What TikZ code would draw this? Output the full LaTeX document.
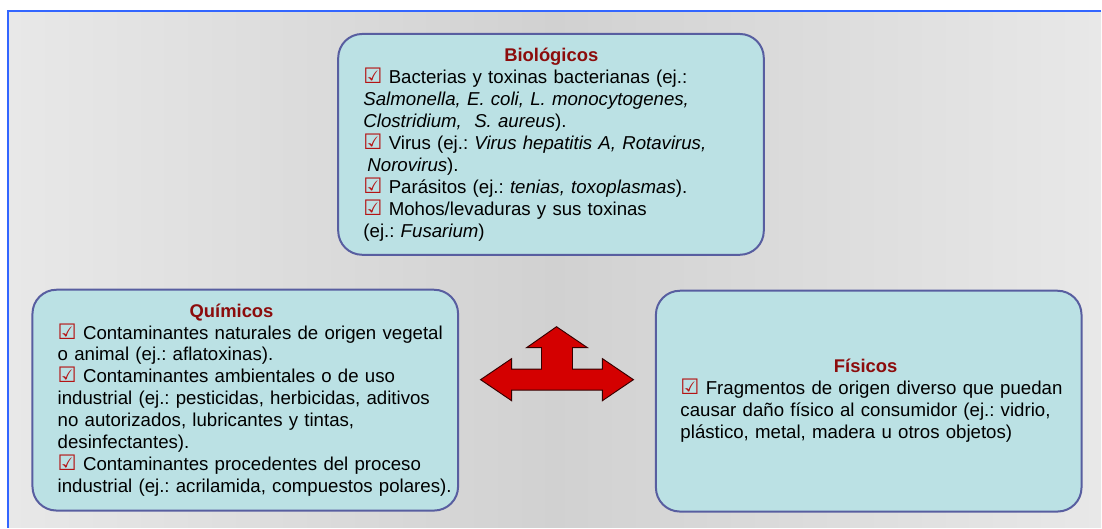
\documentclass[tikz,border=0pt]{standalone}
\usepackage{fontspec}
\setmainfont{Liberation Sans}
\newfontfamily\symfont{DejaVu Sans}
\usetikzlibrary{positioning}

\definecolor{boxfill}{RGB}{187,225,228}
\definecolor{boxline}{RGB}{88,94,160}
\definecolor{titlered}{RGB}{140,12,12}
\definecolor{chkred}{RGB}{180,20,20}
\definecolor{arrowred}{RGB}{212,0,0}
\definecolor{frameblue}{RGB}{51,102,255}

\newcommand{\chk}{{\symfont\fontsize{16pt}{16.5pt}\selectfont\color{chkred}☑}}
\newcommand{\hztitle}[2]{\makebox[#1][c]{\fontsize{13.8pt}{16.5pt}\selectfont\textbf{\color{titlered}#2}}\\}

\tikzset{
  hazardbox/.style={draw=boxline, line width=1.5pt, fill=boxfill, rounded corners=18pt,
    minimum width=319.5pt, minimum height=165.75pt},
  hazardtext/.style={anchor=west, text width=360pt, align=left, inner sep=0pt,
    font=\fontsize{14pt}{16.5pt}\selectfont,
    execute at begin node={\frenchspacing\hyphenpenalty=10000\relax}}
}

\begin{document}
\begin{tikzpicture}[x=0.75pt, y=-0.75pt]
  % Page and grey panel
  \fill [white] (0,0) rectangle (1102,528);
  \shade [left color=black!9, right color=black!9, middle color=black!18] (8,11) rectangle (1102,528);
  \draw [frameblue, line width=1.5pt] (1102,11) -- (8,11) -- (8,528);
  \useasboundingbox (0,0) rectangle (1102,528);

  % The three boxes
  \node [hazardbox] (bio) at (551.5,144.5) {};
  \node [hazardbox] (quim) at (245.5,400.5) {};
  \node [hazardbox] (fis) at (869.5,401.5) {};

  % Biologicos
  \node [hazardtext] (biotxt) at ([xshift=19.5pt]bio.west) {%
    \hztitle{282pt}{Biológicos}
    \chk{} Bacterias y toxinas bacterianas (ej.:\\
    \textit{Salmonella, E. coli, L. monocytogenes,}\\
    \textit{Clostridium,\ \ S. aureus}).\\
    \chk{} Virus (ej.: \textit{Virus hepatitis A, Rotavirus,}\\
    \hspace*{3pt}\textit{Norovirus}).\\
    \chk{} Parásitos (ej.: \textit{tenias, toxoplasmas}).\\
    \chk{} Mohos/levaduras y sus toxinas\\
    (ej.: \textit{Fusarium})};

  % Quimicos
  \node [hazardtext] (quimtxt) at ([xshift=19.5pt]quim.west) {%
    \hztitle{261pt}{Químicos}
    \chk{} Contaminantes naturales de origen vegetal\\
    o animal (ej.: aflatoxinas).\\
    \chk{} Contaminantes ambientales o de uso\\
    industrial (ej.: pesticidas, herbicidas, aditivos\\
    no autorizados, lubricantes y tintas,\\
    desinfectantes).\\
    \chk{} Contaminantes procedentes del proceso\\
    industrial (ej.: acrilamida, compuestos polares).};

  % Fisicos
  \node [hazardtext] (fistxt) at ([xshift=19pt]fis.west) {%
    \hztitle{278pt}{Físicos}
    \chk{} Fragmentos de origen diverso que puedan\\
    causar daño físico al consumidor (ej.: vidrio,\\
    plástico, metal, madera u otros objetos)};

  % Three-way arrow
  \filldraw [fill=arrowred, draw=black!75!arrowred, line width=0.7pt]
    (481,380) -- (512,359) -- (512,369.5) -- (542,369.5) -- (542,348) -- (527,348)
    -- (557,327) -- (588,348) -- (573,348) -- (573,369.5) -- (603,369.5) -- (603,359)
    -- (634,380) -- (603,401) -- (603,390.5) -- (512,390.5) -- (512,401) -- cycle;
\end{tikzpicture}
\end{document}
